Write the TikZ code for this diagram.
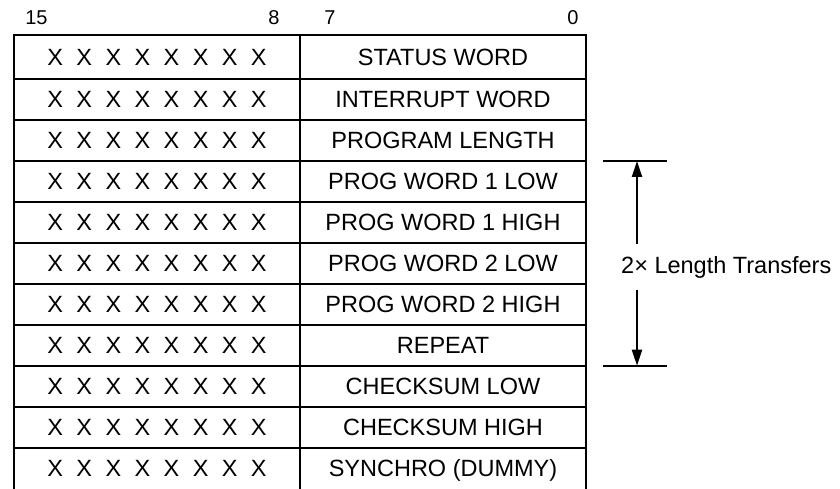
\documentclass[tikz,border=0pt]{standalone}
\usepackage{fontspec}
\setmainfont{Liberation Sans}
\usetikzlibrary{arrows.meta}

\tikzset{
  cell/.style={inner sep=0pt,anchor=base,font=\fontsize{23.5}{28}\selectfont},
  bitno/.style={inner sep=0pt,anchor=base,font=\fontsize{20}{24}\selectfont},
  rule/.style={line width=2pt},
  tip/.style={-{Triangle[length=16pt,width=10pt]}},
}
\newcommand{\xsp}{\hspace{13.4pt}}
\newcommand{\xbits}{X\xsp X\xsp X\xsp X\xsp X\xsp X\xsp X\xsp X}

\begin{document}
\begin{tikzpicture}[x=1pt,y=-1pt]
\useasboundingbox (0,0) rectangle (840,489);

% bit numbers
\node[bitno] (hdr15) at (36.5,25) {15};
\node[bitno] (hdr8) at (274,25) {8};
\node[bitno] (hdr7) at (330,25) {7};
\node[bitno] (hdr0) at (573,25) {0};

% frame
\draw[rule] (13.5,489) -- (13.5,35) -- (586,35) -- (586,489);
\draw[rule] (300,35) -- (300,489);
\draw[rule] (13.5,79) -- (586,79);
\foreach \k in {1,...,9}
  \draw[rule] (13.5,79+\k*40.96) -- (586,79+\k*40.96);

% contents
\node[cell] (xs1) at (157,65.5) {\xbits};
\node[cell] (fld1) at (443,65.5) {STATUS WORD};
\foreach \t [count=\r] in {INTERRUPT WORD,PROGRAM LENGTH,PROG WORD 1 LOW,
    PROG WORD 1 HIGH,PROG WORD 2 LOW,PROG WORD 2 HIGH,REPEAT,
    CHECKSUM LOW,CHECKSUM HIGH,SYNCHRO (DUMMY)} {
  \node[cell] (xs\r) at (157,79+\r*40.96-12) {\xbits};
  \node[cell] (fld\r) at (443,79+\r*40.96-12) {\t};
}

% repeat range
\coordinate (brtop) at (637,160.9);
\coordinate (brbot) at (637,365.7);
\draw[rule] ([xshift=-34pt]brtop) -- ([xshift=30pt]brtop);
\draw[rule] ([xshift=-34pt]brbot) -- ([xshift=30pt]brbot);
\node[cell,anchor=west,minimum height=45pt] (lenlbl) at (621,267) {2× Length Transfers};
\draw[rule,tip] (lenlbl.north -| brtop) -- (brtop);
\draw[rule,tip] (lenlbl.south -| brbot) -- (brbot);
\end{tikzpicture}
\end{document}
